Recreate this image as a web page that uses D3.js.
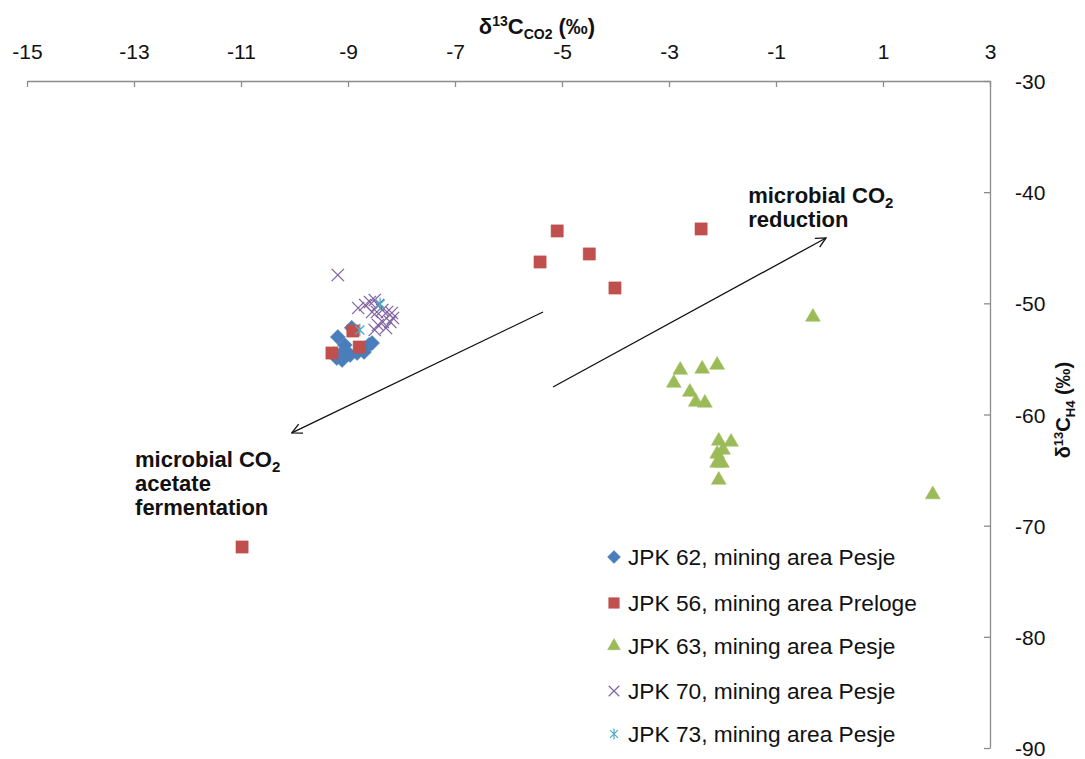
<!DOCTYPE html>
<html>
<head>
<meta charset="utf-8">
<script src="https://cdn.jsdelivr.net/npm/d3@7"></script>
<style>
  body { margin: 0; background: #fff; }
  text { font-family: "Liberation Sans", Arial, sans-serif; }
</style>
</head>
<body>
<div id="chart"></div>
<script>
// series values: [d13C CO2, d13C CH4]
var jpk62 = [[-9.19,-53.03],[-9.06,-54.2],[-9.21,-54.92],[-9.11,-55.1],[-8.96,-54.65],[-8.83,-54.47],
             [-8.70,-54.37],[-8.55,-53.57],[-8.61,-53.75],[-8.93,-52.2],[-9.06,-53.75],[-9.26,-54.56]];
var jpk56 = [[-5.41,-46.28],[-5.09,-43.49],[-4.49,-45.56],[-4.01,-48.62],[-2.4,-43.31],[-10.98,-71.92],
             [-9.30,-54.47],[-8.91,-52.49],[-8.79,-53.93]];
var jpk63 = [[-2.79,-56.0],[-2.38,-55.9],[-2.10,-55.55],[-2.91,-57.17],[-2.61,-57.98],[-2.50,-58.87],
             [-2.33,-58.96],[-2.07,-62.38],[-1.84,-62.47],[-1.99,-63.19],[-2.10,-63.55],[-2.01,-64.36],
             [-2.10,-64.36],[-2.07,-65.89],[-0.31,-51.23],[1.93,-67.2]];
var jpk70 = [[-9.19,-47.45],[-8.81,-50.42],[-8.68,-50.15],[-8.59,-49.88],[-8.50,-49.70],[-8.44,-50.15],
             [-8.36,-50.6],[-8.27,-50.78],[-8.18,-50.87],[-8.16,-51.32],[-8.21,-51.68],[-8.46,-50.78],
             [-8.55,-50.78],[-8.50,-52.4],[-8.44,-51.95],[-8.35,-51.68],[-8.29,-52.22]];
var jpk73 = [[-8.40,-50.06],[-8.78,-52.4]];

var seriesNames = ["JPK 62, mining area Pesje", "JPK 56, mining area Preloge", "JPK 63, mining area Pesje",
                   "JPK 70, mining area Pesje", "JPK 73, mining area Pesje"];
var xTicks = d3.range(-15, 4, 2);
var yTicks = d3.range(-90, -29, 10);

// arrows and labels, in data units
var arrows = [
  { from: [-5.355, -50.78], to: [-10.05, -61.66] },
  { from: [-5.168, -57.53], to: [-0.065, -44.12] }
];
var notes = [
  { at: [-1.52, -40.97], lines: ["microbial CO|2", "reduction"] },
  { at: [-12.98, -64.72], lines: ["microbial CO|2", "acetate", "fermentation"] }
];

var W = 1085, H = 759;
var x = d3.scaleLinear().domain([-15, 3]).range([27, 990]);
var y = d3.scaleLinear().domain([-90, -30]).range([748, 81]);
var plain = function(d){ return String(d); };

var svg = d3.select("#chart").append("svg")
    .attr("width", W)
    .attr("height", H);

svg.append("defs").append("marker")
    .attr("id", "head")
    .attr("viewBox", "0 0 12 12")
    .attr("refX", 11).attr("refY", 6)
    .attr("markerWidth", 12).attr("markerHeight", 12)
    .attr("markerUnits", "userSpaceOnUse")
    .attr("orient", "auto")
  .append("path")
    .attr("d", "M1,1 L11,6 L1,11")
    .attr("fill", "none")
    .attr("stroke", "#111")
    .attr("stroke-width", 1.3);

// axes
var xAxis = svg.append("g")
    .attr("transform", "translate(0," + y(-30) + ")")
    .call(d3.axisTop(x).tickValues(xTicks).tickFormat(plain).tickSize(-6).tickSizeOuter(0).tickPadding(22));
var yAxis = svg.append("g")
    .attr("transform", "translate(" + x(3) + ",0)")
    .call(d3.axisRight(y).tickValues(yTicks).tickFormat(plain).tickSize(-6).tickSizeOuter(0).tickPadding(25));

[xAxis, yAxis].forEach(function(a){
  a.select(".domain").attr("stroke", "#8c8c8c").attr("stroke-width", 1.3);
  a.selectAll(".tick line").attr("stroke", "#8c8c8c").attr("stroke-width", 1.3);
  a.selectAll(".tick text").attr("fill", "#111").style("font-size", "21px")
    .style("font-family", "'Liberation Sans', Arial, sans-serif");
});
xAxis.selectAll(".tick text").attr("dy", "0");
yAxis.selectAll(".tick text").attr("dy", "0.36em");

// axis titles
var xt = svg.append("text")
    .attr("x", 537).attr("y", 34)
    .attr("text-anchor", "middle")
    .style("font-size", "22px").style("font-weight", "bold").attr("fill", "#111");
xt.append("tspan").text("δ");
xt.append("tspan").attr("dy", -8).style("font-size", "14px").text("13");
xt.append("tspan").attr("dy", 8).text("C");
xt.append("tspan").attr("dy", 5).style("font-size", "14px").text("CO2");
xt.append("tspan").attr("dy", -5).text(" (‰)");

var yt = svg.append("text")
    .attr("transform", "translate(1070,410) rotate(-90)")
    .attr("text-anchor", "middle")
    .style("font-size", "20px").style("font-weight", "bold").attr("fill", "#111");
yt.append("tspan").text("δ");
yt.append("tspan").attr("dy", -7).style("font-size", "13px").text("13");
yt.append("tspan").attr("dy", 7).text("C");
yt.append("tspan").attr("dy", 5).style("font-size", "13px").text("H4");
yt.append("tspan").attr("dy", -5).text(" (‰)");

// marker shapes
var diamond = { draw: function(c, s){ var r = Math.sqrt(s) / 1.3; c.moveTo(0,-r); c.lineTo(r,0); c.lineTo(0,r); c.lineTo(-r,0); c.closePath(); } };
var star = { draw: function(c, s){ var r = Math.sqrt(s) / 2, d = r * 0.72;
  c.moveTo(-d,-d); c.lineTo(d,d); c.moveTo(-d,d); c.lineTo(d,-d); c.moveTo(0,-r); c.lineTo(0,r); } };

var series = [
  { data: jpk62, type: diamond, size: 95, color: "#4a7ebb", fill: true },
  { data: jpk56, type: d3.symbolSquare, size: 150, color: "#c0504d", fill: true },
  { data: jpk63, type: d3.symbolTriangle, size: 95, color: "#9bbb59", fill: true },
  { data: jpk70, type: d3.symbolTimes, size: 100, color: "#8064a2", fill: false },
  { data: jpk73, type: star, size: 160, color: "#4bacc6", fill: false }
];

series.forEach(function(s){
  svg.append("g").selectAll("path")
    .data(s.data)
    .join("path")
      .attr("transform", function(d){ return "translate(" + x(d[0]) + "," + y(d[1]) + ")"; })
      .attr("d", d3.symbol().type(s.type).size(s.size))
      .attr("fill", s.fill ? s.color : "none")
      .attr("stroke", s.color)
      .attr("stroke-width", s.fill ? 0.5 : 1.3);
});

// arrows
svg.append("g").selectAll("line")
  .data(arrows)
  .join("line")
    .attr("x1", function(d){ return x(d.from[0]); })
    .attr("y1", function(d){ return y(d.from[1]); })
    .attr("x2", function(d){ return x(d.to[0]); })
    .attr("y2", function(d){ return y(d.to[1]); })
    .attr("stroke", "#111")
    .attr("stroke-width", 1.3)
    .attr("marker-end", "url(#head)");

// annotation labels
notes.forEach(function(n){
  n.lines.forEach(function(line, i){
    var t = svg.append("text")
        .attr("x", x(n.at[0]))
        .attr("y", y(n.at[1]) + i * 24)
        .style("font-size", "22px").style("font-weight", "bold").attr("fill", "#111");
    var parts = line.split("|");
    t.append("tspan").text(parts[0]);
    if (parts[1]) t.append("tspan").attr("dy", 5).style("font-size", "15px").text(parts[1]);
  });
});

// legend
var legend = svg.append("g").attr("transform", "translate(614,557)");
var rows = legend.selectAll("g")
  .data(series)
  .join("g")
    .attr("transform", function(d, i){ return "translate(0," + [0, 46, 89, 134, 177][i] + ")"; });
rows.append("path")
    .attr("d", function(d){ return d3.symbol().type(d.type).size(d.size * 0.75)(); })
    .attr("fill", function(d){ return d.fill ? d.color : "none"; })
    .attr("stroke", function(d){ return d.color; })
    .attr("stroke-width", function(d){ return d.fill ? 0.5 : 1.2; });
rows.append("text")
    .attr("x", 14)
    .attr("dy", "0.36em")
    .style("font-size", "22.7px")
    .attr("fill", "#111")
    .text(function(d, i){ return seriesNames[i]; });
</script>
</body>
</html>
